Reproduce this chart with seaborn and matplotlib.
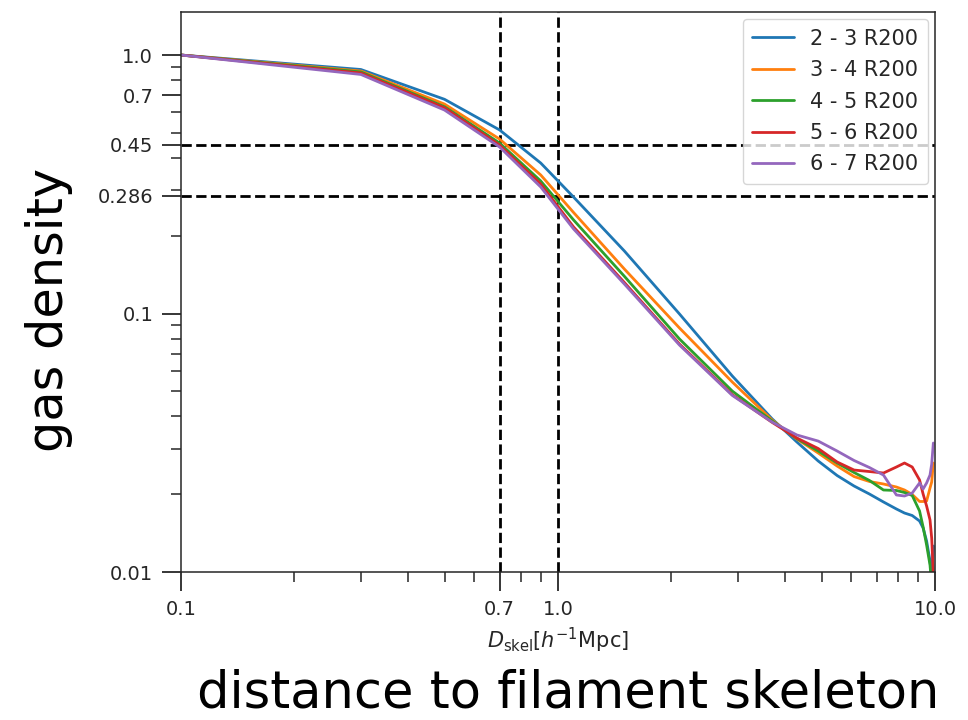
import matplotlib
matplotlib.use("Agg")
import matplotlib.pyplot as plt
import numpy as np
import pandas as pd
import seaborn as sns
from matplotlib.ticker import FixedLocator, FixedFormatter, LogLocator, NullFormatter

# distance to the filament skeleton [h^-1 Mpc]
dist = [0.1, 0.3, 0.5, 0.7, 0.9, 1.1, 1.5, 2.1, 2.9, 3.7, 4.3, 4.9, 5.5,
        6.1, 6.7, 7.3, 7.9, 8.3, 8.7, 9.1, 9.3, 9.5, 9.7, 9.8, 9.9]

# normalised gas density profiles, one per radial shell around the cluster
dens_2_3 = [1.0, 0.879, 0.674, 0.513, 0.382, 0.282, 0.1745, 0.0996, 0.0573,
            0.0391, 0.03185, 0.02688, 0.02362, 0.02151, 0.02003, 0.01866,
            0.01753, 0.01691, 0.01654, 0.01575, 0.01480, 0.01318, 0.01103,
            0.00948, 0.0126]
dens_3_4 = [1.0, 0.867, 0.646, 0.473, 0.3434, 0.2458, 0.1486, 0.0879, 0.0543,
            0.0387, 0.0327, 0.02886, 0.0257, 0.0234, 0.02239, 0.0219,
            0.02132, 0.02076, 0.01995, 0.01874, 0.01874, 0.01882, 0.02113,
            0.0223, 0.0264]
dens_4_5 = [1.0, 0.860, 0.631, 0.4565, 0.3255, 0.230, 0.1393, 0.0797, 0.0501,
            0.0384, 0.03284, 0.02938, 0.0264, 0.02426, 0.0226, 0.02076,
            0.02067, 0.0203, 0.01977, 0.01722, 0.01493, 0.01272, 0.01064,
            0.0089, 0.00815]
dens_5_6 = [1.0, 0.852, 0.625, 0.4485, 0.317, 0.2161, 0.1318, 0.0762, 0.0485,
            0.0379, 0.03299, 0.03004, 0.02664, 0.0248, 0.02447, 0.02415,
            0.02548, 0.0264, 0.02548, 0.0227, 0.02003, 0.018, 0.0159,
            0.01353, 0.00974]
dens_6_7 = [1.0, 0.841, 0.6125, 0.4406, 0.3086, 0.2123, 0.130, 0.0755, 0.0482,
            0.0380, 0.0339, 0.0321, 0.02938, 0.027, 0.02536, 0.02372,
            0.01986, 0.01968, 0.0202, 0.0221, 0.02095, 0.0221, 0.02372,
            0.02617, 0.03155]

shell_labels = ["2 - 3 R200", "3 - 4 R200", "4 - 5 R200", "5 - 6 R200", "6 - 7 R200"]
profiles = [dens_2_3, dens_3_4, dens_4_5, dens_5_6, dens_6_7]

# reference distances and densities marked with dashed guides
ref_dist = [0.7, 1.0]
ref_dens = [0.45, 0.286]

xtick_vals = [0.1, 0.7, 1.0, 10.0]
xtick_text = ["0.1", "0.7", "1.0", "10.0"]
ytick_vals = [0.01, 0.1, 0.286, 0.45, 0.7, 1.0]
ytick_text = ["0.01", "0.1", "0.286", "0.45", "0.7", "1.0"]

sns.set_style("ticks")
plt.rcParams["font.family"] = ["DejaVu Sans"]

W, H = 968, 720
fig = plt.figure(figsize=(W / 100, H / 100), dpi=100)
ax = fig.add_axes([181 / W, 1 - 572 / H, (935 - 181) / W, (572 - 12) / H])

palette = sns.color_palette("tab10", len(profiles))
for lab, prof, col in zip(shell_labels, profiles, palette):
    df = pd.DataFrame({"dist": dist, "dens": prof})
    sns.lineplot(data=df, x="dist", y="dens", ax=ax, color=col, lw=2.0,
                 label=lab, estimator=None, sort=False)

ax.set_xscale("log")
ax.set_yscale("log")
ax.set_xlim(0.1, 10.0)
ax.set_ylim(0.01, 1.467)

for xv in ref_dist:
    ax.axvline(xv, color="black", lw=2.0, ls="--", zorder=1)
for yv in ref_dens:
    ax.axhline(yv, color="black", lw=2.0, ls="--", zorder=1)

ax.xaxis.set_major_locator(FixedLocator(xtick_vals))
ax.xaxis.set_major_formatter(FixedFormatter(xtick_text))
ax.yaxis.set_major_locator(FixedLocator(ytick_vals))
ax.yaxis.set_major_formatter(FixedFormatter(ytick_text))
for axis in (ax.xaxis, ax.yaxis):
    axis.set_minor_locator(LogLocator(base=10, subs=np.arange(2, 10)))
    axis.set_minor_formatter(NullFormatter())

ax.tick_params(which="major", length=14, width=1.3, pad=6, labelsize=14,
               colors=".15")
ax.tick_params(which="minor", length=7, width=1.1, colors=".15")
for sp in ax.spines.values():
    sp.set_linewidth(1.1)
    sp.set_color(".15")

ax.set_xlabel(r"$D_{\rm skel}[h^{-1}$Mpc]", fontsize=15, labelpad=5,
              color=".15")
ax.set_ylabel("")

leg = ax.legend(loc="upper right", fontsize=15, framealpha=0.8,
                handlelength=2.0, labelspacing=0.55, borderpad=0.45,
                handletextpad=0.8, borderaxespad=0.35)
for t in leg.get_texts():
    t.set_color(".15")

# large descriptive labels
big_y = fig.text(49 / W, 1 - 310 / H, "gas density", rotation=90,
                 ha="center", va="center", fontsize=32, color="black")
big_x = fig.text(568.5 / W, 1 - 718 / H, "distance to filament skeleton",
                 ha="center", va="bottom", fontsize=32, color="black")

fig.canvas.draw()
r = fig.canvas.get_renderer()
bb = big_y.get_window_extent(r)
big_y.set_fontsize(32 * 284 / bb.height)
bb = big_x.get_window_extent(r)
big_x.set_fontsize(32 * 743 / bb.width)

fig.savefig("out.png", dpi=100)
